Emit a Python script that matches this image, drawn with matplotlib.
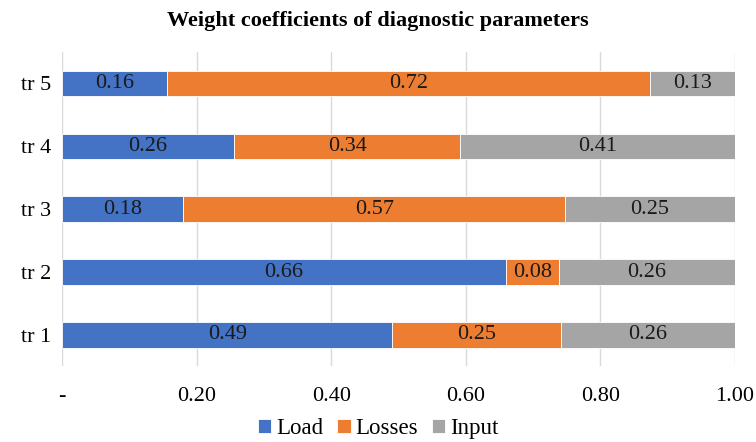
import matplotlib.pyplot as plt

categories = ['tr 1', 'tr 2', 'tr 3', 'tr 4', 'tr 5']
load = [0.491, 0.660, 0.180, 0.256, 0.156]
losses = [0.250, 0.078, 0.568, 0.336, 0.718]
inputs = [0.259, 0.262, 0.252, 0.408, 0.126]
xticks = [0, 0.2, 0.4, 0.6, 0.8, 1.0]
xtick_labels = ['-', '0.20', '0.40', '0.60', '0.80', '1.00']

plt.rcParams['font.family'] = ['Liberation Serif', 'DejaVu Serif']

fig = plt.figure(figsize=(7.56, 4.42), dpi=100)
ax = fig.add_axes([0.082, 0.171, 0.89, 0.712])

series = [('Load', load, '#4472C4'), ('Losses', losses, '#ED7D31'), ('Input', inputs, '#A5A5A5')]
left = [0.0] * len(categories)
for name, vals, color in series:
    bars = ax.barh(categories, vals, left=left, height=0.4, color=color,
                   edgecolor='white', linewidth=0.6, label=name, zorder=3)
    ax.bar_label(bars, labels=[f'{v:.2f}' for v in vals], label_type='center',
                 fontsize=16, color='#1a1a1a')
    left = [l + v for l, v in zip(left, vals)]

ax.set_xlim(0, 1.0)
ax.set_ylim(-0.5, 4.5)
ax.set_xticks(xticks)
ax.set_xticklabels(xtick_labels)
ax.tick_params(axis='both', length=0, labelsize=16)
ax.tick_params(axis='x', pad=15)
ax.tick_params(axis='y', pad=8)
ax.grid(axis='x', color='#D9D9D9', linewidth=1, zorder=0)
for s in ax.spines.values():
    s.set_visible(False)

fig.suptitle('Weight coefficients of diagnostic parameters', fontsize=16,
             fontweight='bold', y=0.975)
fig.legend(loc='center', bbox_to_anchor=(0.5, 0.03), ncol=3, frameon=False,
           fontsize=16.5, handlelength=0.6, handleheight=0.6, handletextpad=0.2,
           columnspacing=0.6)

fig.savefig('out.png', dpi=100)
